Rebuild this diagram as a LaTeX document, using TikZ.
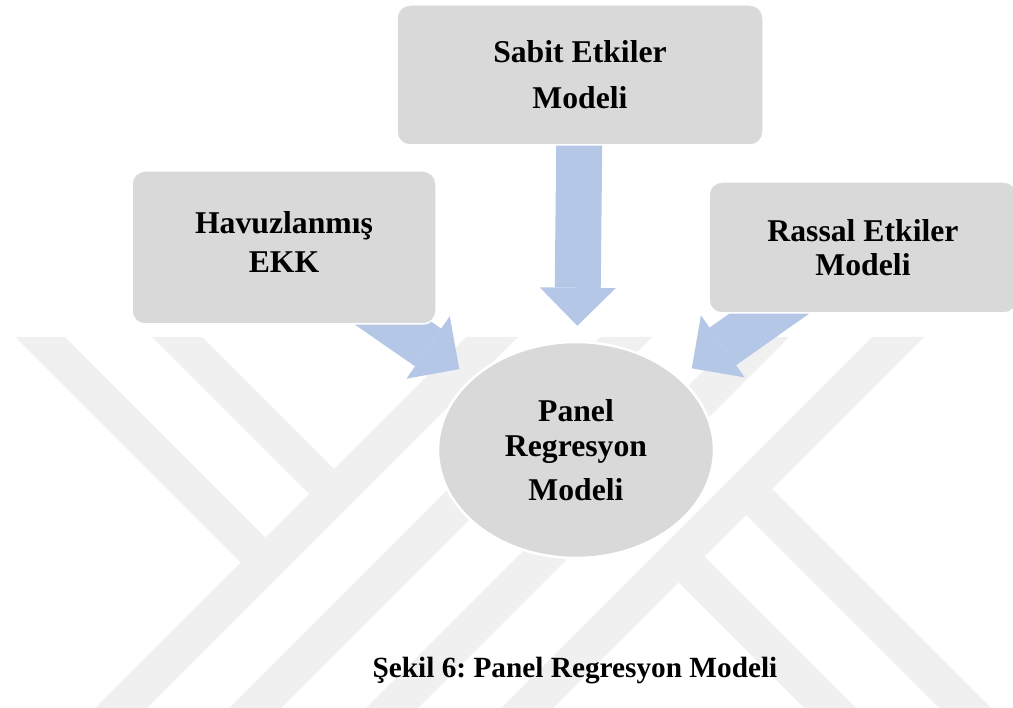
\documentclass[tikz,border=0pt]{standalone}
\usepackage{fontspec}
\setmainfont{Liberation Serif}
\usepackage{xcolor}
\definecolor{BoxGray}{RGB}{217,217,217}
\definecolor{FlowBlue}{RGB}{180,199,231}
\definecolor{MarkGray}{RGB}{240,240,240}
\usetikzlibrary{positioning}
\usetikzlibrary{calc}
\usetikzlibrary{shapes.geometric}
\usetikzlibrary{backgrounds}
\usetikzlibrary{arrows.meta}

\newcommand{\modelfont}[1]{\fontsize{31.7pt}{#1}\selectfont\bfseries}
\frenchspacing

\begin{document}
\begin{tikzpicture}[
      x=1pt, y=-1pt
      , model/.style={rectangle, rounded corners=13pt, fill=BoxGray, draw=white, line width=1.5pt, inner sep=0pt, align=center}
      , core/.style={ellipse, fill=BoxGray, draw=white, line width=2.5pt, inner sep=0pt, minimum width=276pt, minimum height=216pt, align=center, font=\modelfont{35pt}}
      , flow/.style={draw=FlowBlue, line width=46pt, -{Triangle[width=76pt, length=38pt, line width=0pt]}, shorten >=15pt}
      , stripe/.style={fill=MarkGray}
      , on grid
      ]

      \useasboundingbox (0,0) rectangle (1013,708);

      \node[core] (panel) at (576,450) {Panel\\Regresyon\\[9pt]Modeli};

      \node[model, minimum width=366pt, minimum height=140pt, above=375pt of panel, xshift=4pt, font=\modelfont{46pt}] (sabit) {Sabit Etkiler\\Modeli};
      \node[model, minimum width=304pt, minimum height=153pt, above left=202.5pt and 292pt of panel, font=\modelfont{39pt}] (havuz) {Havuzlanmış\\EKK\strut};
      \node[model, minimum width=308pt, minimum height=131pt, above right=202.5pt and 287pt of panel, font=\modelfont{34pt}] (rassal) {Rassal Etkiler\\Modeli};

      \node[anchor=base, font=\fontsize{29.3pt}{35pt}\selectfont\bfseries] (caption) at (575,677) {Şekil 6: Panel Regresyon Modeli};

      \begin{scope}[on background layer]
        \begin{scope}
          \clip (0,337) rectangle (1013,708);
          \foreach \a in {803,937,1074,1209}
            \fill[stripe] ({\a-337},337) -- ({\a+52-337},337) -- ({\a+52-708},708) -- ({\a-708},708) -- cycle;
          \foreach \p in {-322,-185}
            \fill[stripe] ({\p+337},337) -- ({\p+50+337},337) -- ({(803+\p+50)/2},{(803-(\p)-50)/2}) -- ({(803+\p)/2},{(803-(\p))/2}) -- cycle;
          \foreach \p in {96,231}
            \fill[stripe] ({(1261+\p)/2},{(1261-\p)/2}) -- ({(1261+\p+52)/2},{(1261-\p-52)/2}) -- ({\p+52+708},708) -- ({\p+708},708) -- cycle;
        \end{scope}

        \draw[flow] (sabit.center) -- (panel);
        \draw[flow] (havuz.center) -- (panel);
        \draw[flow] (rassal.center) -- (panel);
      \end{scope}
    \end{tikzpicture}
\end{document}
